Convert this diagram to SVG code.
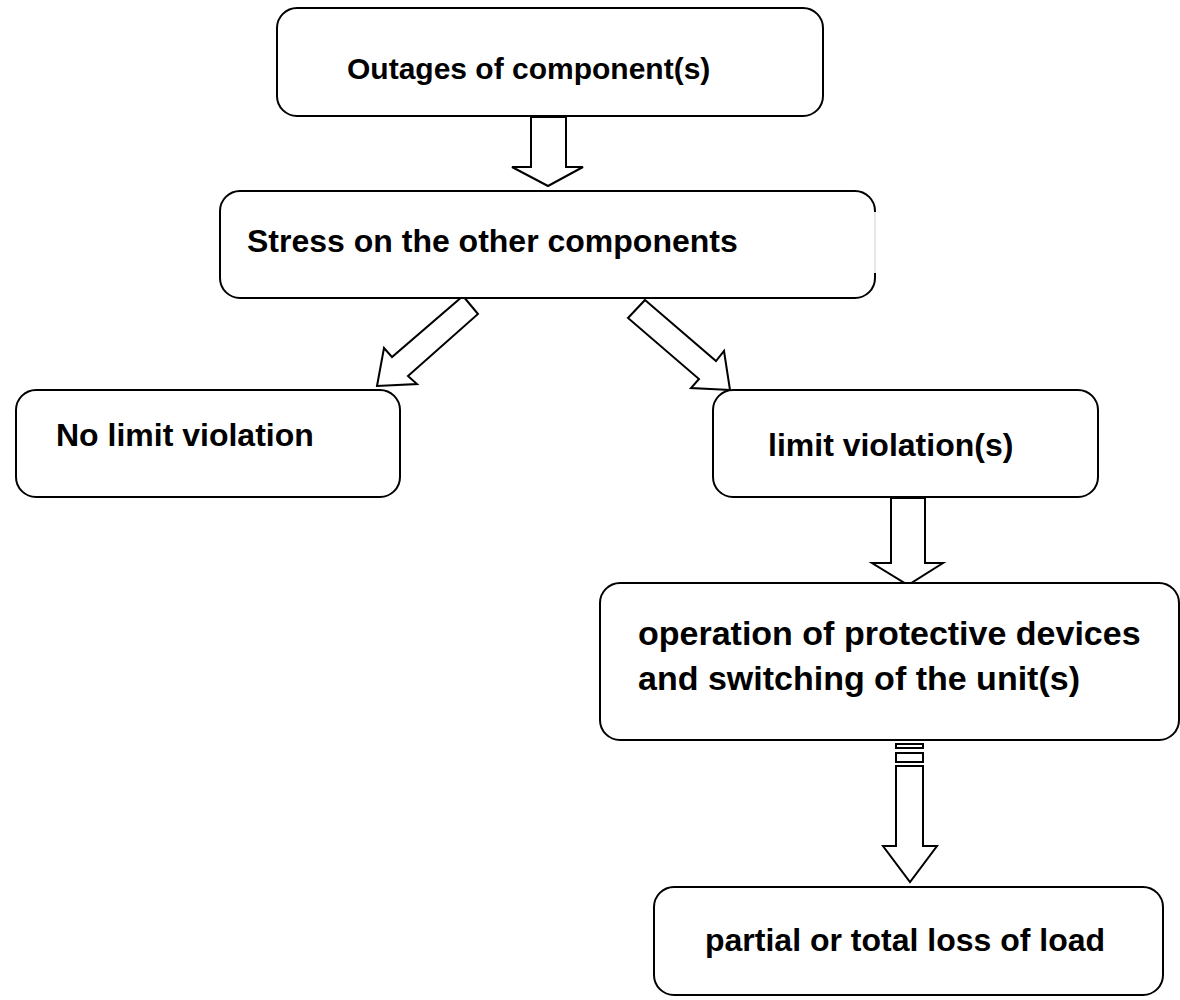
<svg xmlns="http://www.w3.org/2000/svg" width="1180" height="1000" viewBox="0 0 1180 1000">
<style>
.box{fill:#fff;stroke:#000;stroke-width:2}
.arr{fill:#fff;stroke:#000;stroke-width:2;stroke-linejoin:miter}
.t{font-family:"Liberation Sans",Arial,sans-serif;font-weight:bold;font-size:32px;fill:#000}
</style>
<rect width="1180" height="1000" fill="#fff"/>
<g id="connectors">
<polygon class="arr" points="531,117 566,117 566,167 583,167 548,186 512,167 531,167"/>
<polygon class="arr" points="463,296 478,314 408,376 417,384 377,386 384,348 392,357"/>
<polygon class="arr" points="645,300 716,361 724,351 730,390 691,388 699,379 628,318"/>
<polygon class="arr" points="891,498 925,498 925,563 943,563 908,585 872,563 891,563"/>
<rect class="arr" x="896" y="744" width="27" height="4"/>
<rect class="arr" x="896" y="753" width="27" height="9"/>
<polygon class="arr" points="896,766 923,766 923,846 937,846 910,882 883,846 896,846"/>
</g>
<g id="n1">
<rect class="box" x="277" y="8" width="546" height="108" rx="20"/>
<text class="t" x="347" y="79" style="font-size:30px">Outages of component(s)</text>
</g>
<g id="n2">
<rect x="220" y="191" width="655" height="107" rx="20" fill="#fff"/>
<path d="M875,212 V211 A20,20 0 0 0 855,191 H240 A20,20 0 0 0 220,211 V278 A20,20 0 0 0 240,298 H855 A20,20 0 0 0 875,278 V273" fill="none" stroke="#000" stroke-width="2"/>
<line x1="875" y1="212" x2="875" y2="273" stroke="#d0d0d0" stroke-width="1"/>
<text class="t" x="247" y="252">Stress on the other components</text>
</g>
<g id="n3">
<rect class="box" x="16" y="390" width="384" height="107" rx="20"/>
<text class="t" x="56" y="446">No limit violation</text>
</g>
<g id="n4">
<rect class="box" x="713" y="390" width="385" height="107" rx="20"/>
<text class="t" x="768" y="456">limit violation(s)</text>
</g>
<g id="n5">
<rect class="box" x="600" y="583" width="579" height="157" rx="20"/>
<text class="t" x="638" y="645" style="font-size:34px">operation of protective devices</text>
<text class="t" x="638" y="690" style="font-size:34px">and switching of the unit(s)</text>
</g>
<g id="n6">
<rect class="box" x="654" y="887" width="509" height="108" rx="20"/>
<text class="t" x="705" y="951">partial or total loss of load</text>
</g>
</svg>
